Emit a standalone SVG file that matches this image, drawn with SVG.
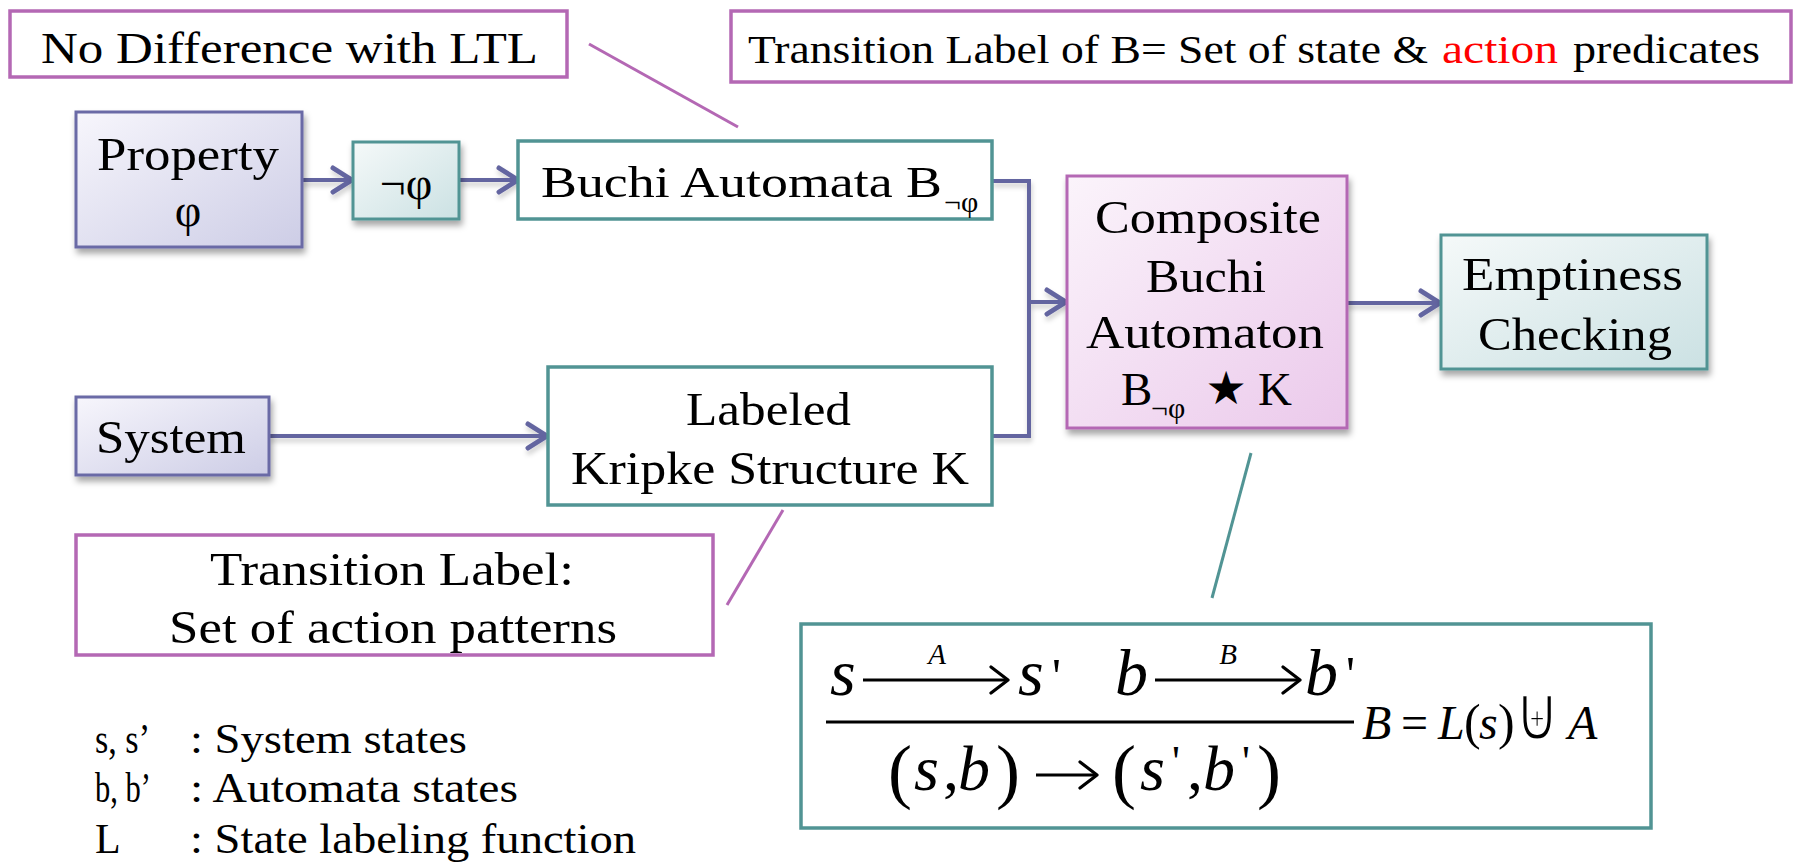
<svg xmlns="http://www.w3.org/2000/svg" width="1796" height="862" viewBox="0 0 1796 862">
  <defs>
    <style>
      .txt { font-family: "Liberation Serif", "DejaVu Serif", serif; fill: #000; }
      .math { font-family: "Liberation Serif", "DejaVu Serif", serif; font-style: italic; fill: #000; }
      .up { font-family: "Liberation Serif", "DejaVu Serif", serif; fill: #000; }
      .sym { font-family: "DejaVu Sans", sans-serif; fill: #000; }
      .callout { fill: #ffffff; stroke: #b468b4; stroke-width: 3.5; }
      .plain { fill: #ffffff; stroke: #519494; stroke-width: 3.5; }
      .lead-p { stroke: #b468b4; stroke-width: 3; fill: none; }
      .lead-t { stroke: #519494; stroke-width: 3; fill: none; }
      .conn { stroke: #6465a0; stroke-width: 4; fill: none; }
      .rule-line { stroke: #000; stroke-width: 3.2; fill: none; }
    </style>
    <linearGradient id="gLav" x1="0" y1="0" x2="1" y2="1">
      <stop offset="0" stop-color="#f7f6fc"/>
      <stop offset="1" stop-color="#cdcde6"/>
    </linearGradient>
    <linearGradient id="gTeal" x1="0" y1="0" x2="1" y2="1">
      <stop offset="0" stop-color="#f5f9f9"/>
      <stop offset="1" stop-color="#cbe1e3"/>
    </linearGradient>
    <linearGradient id="gPink" x1="0" y1="0" x2="1" y2="1">
      <stop offset="0" stop-color="#fbf4fb"/>
      <stop offset="1" stop-color="#ebc9eb"/>
    </linearGradient>
    <filter id="shadow" x="-10%" y="-10%" width="125%" height="130%">
      <feDropShadow dx="2" dy="5" stdDeviation="3" flood-color="#000" flood-opacity="0.35"/>
    </filter>
    <filter id="lineShadow" x="-5%" y="-50%" width="110%" height="300%">
      <feDropShadow dx="1" dy="4" stdDeviation="2.5" flood-color="#000" flood-opacity="0.2"/>
    </filter>
    <marker id="head" viewBox="0 0 26 30" refX="23" refY="15" markerWidth="26" markerHeight="30" markerUnits="userSpaceOnUse" orient="auto">
      <path d="M4,3 L23,15 L4,27" fill="none" stroke="#6465a0" stroke-width="5" stroke-linecap="round" stroke-linejoin="round"/>
    </marker>
    <marker id="mathHead" viewBox="0 0 22 30" refX="20" refY="15" markerWidth="22" markerHeight="30" markerUnits="userSpaceOnUse" orient="auto">
      <path d="M3,2 L20,15 L3,28" fill="none" stroke="#000" stroke-width="3.2" stroke-linecap="round" stroke-linejoin="round"/>
    </marker>
  </defs>

  <rect width="1796" height="862" fill="#ffffff"/>

  <!-- connectors -->
  <g id="connectors">
    <g filter="url(#lineShadow)">
      <line class="conn" x1="302" y1="180" x2="352" y2="180" marker-end="url(#head)"/>
      <line class="conn" x1="460" y1="180" x2="518" y2="180" marker-end="url(#head)"/>
      <line class="conn" x1="269" y1="436" x2="547" y2="436" marker-end="url(#head)"/>
      <polyline class="conn" points="992,181 1029,181 1029,436 992,436"/>
      <line class="conn" x1="1029" y1="302" x2="1066" y2="302" marker-end="url(#head)"/>
      <line class="conn" x1="1347" y1="303" x2="1440" y2="303" marker-end="url(#head)"/>
    </g>
    <!-- annotation leader lines -->
    <line class="lead-p" x1="589" y1="44" x2="738" y2="127"/>
    <line class="lead-p" x1="783" y1="510" x2="727" y2="605"/>
    <line class="lead-t" x1="1251" y1="453" x2="1212" y2="598"/>
  </g>

  <!-- callout: no difference -->
  <g id="note-ltl">
    <rect class="callout" x="10" y="11" width="557" height="66"/>
    <text class="txt" x="41" y="63" font-size="44" textLength="497" lengthAdjust="spacingAndGlyphs">No Difference with LTL</text>
  </g>

  <!-- callout: transition label of B -->
  <g id="note-b-label">
    <rect class="callout" x="731" y="11" width="1060" height="71"/>
    <text class="txt" x="748" y="63" font-size="40" textLength="680" lengthAdjust="spacingAndGlyphs">Transition Label of B= Set of state &amp;</text>
    <text class="txt" x="1442" y="63" font-size="40" style="fill:#ff0000" textLength="116" lengthAdjust="spacingAndGlyphs">action</text>
    <text class="txt" x="1573" y="63" font-size="40" textLength="187" lengthAdjust="spacingAndGlyphs">predicates</text>
  </g>

  <!-- property -->
  <g id="property">
    <rect x="76" y="112" width="226" height="135" fill="url(#gLav)" stroke="#6a6aa6" stroke-width="3" filter="url(#shadow)"/>
    <text class="txt" x="188" y="170" font-size="46" text-anchor="middle" textLength="182" lengthAdjust="spacingAndGlyphs">Property</text>
    <text class="txt" x="188" y="226" font-size="46" text-anchor="middle">φ</text>
  </g>

  <!-- negation -->
  <g id="negation">
    <rect x="353" y="142" width="106" height="77" fill="url(#gTeal)" stroke="#519494" stroke-width="3" filter="url(#shadow)"/>
    <text class="txt" x="406" y="199" font-size="46" text-anchor="middle">¬φ</text>
  </g>

  <!-- buchi automata -->
  <g id="buchi">
    <rect class="plain" x="518" y="141" width="474" height="78"/>
    <text class="txt" x="541" y="197" font-size="45" textLength="401" lengthAdjust="spacingAndGlyphs">Buchi Automata B</text>
    <text class="txt" x="944" y="212" font-size="30">¬φ</text>
  </g>

  <!-- system -->
  <g id="system">
    <rect x="76" y="397" width="193" height="78" fill="url(#gLav)" stroke="#6a6aa6" stroke-width="3" filter="url(#shadow)"/>
    <text class="txt" x="96" y="453" font-size="46" textLength="150" lengthAdjust="spacingAndGlyphs">System</text>
  </g>

  <!-- labeled kripke structure -->
  <g id="kripke">
    <rect class="plain" x="548" y="367" width="444" height="138"/>
    <text class="txt" x="686" y="425" font-size="46" textLength="165" lengthAdjust="spacingAndGlyphs">Labeled</text>
    <text class="txt" x="571" y="484" font-size="46" textLength="398" lengthAdjust="spacingAndGlyphs">Kripke Structure K</text>
  </g>

  <!-- callout: kripke transition label -->
  <g id="note-k-label">
    <rect class="callout" x="76" y="535" width="637" height="120"/>
    <text class="txt" x="210" y="585" font-size="46" textLength="364" lengthAdjust="spacingAndGlyphs">Transition Label:</text>
    <text class="txt" x="169" y="643" font-size="46" textLength="448" lengthAdjust="spacingAndGlyphs">Set of action patterns</text>
  </g>

  <!-- composite automaton -->
  <g id="composite">
    <rect x="1067" y="176" width="280" height="252" fill="url(#gPink)" stroke="#b468b4" stroke-width="3" filter="url(#shadow)"/>
    <text class="txt" x="1095" y="233" font-size="47" textLength="226" lengthAdjust="spacingAndGlyphs">Composite</text>
    <text class="txt" x="1146" y="292" font-size="47" textLength="120" lengthAdjust="spacingAndGlyphs">Buchi</text>
    <text class="txt" x="1086" y="348" font-size="47" textLength="238" lengthAdjust="spacingAndGlyphs">Automaton</text>
    <text class="txt" x="1121" y="405" font-size="47">B</text>
    <text class="txt" x="1151" y="418" font-size="30">¬φ</text>
    <text class="sym" x="1226" y="404" font-size="46" text-anchor="middle">★</text>
    <text class="txt" x="1258" y="405" font-size="47">K</text>
  </g>

  <!-- emptiness checking -->
  <g id="emptiness">
    <rect x="1441" y="235" width="266" height="134" fill="url(#gTeal)" stroke="#519494" stroke-width="3" filter="url(#shadow)"/>
    <text class="txt" x="1462" y="290" font-size="47" textLength="221" lengthAdjust="spacingAndGlyphs">Emptiness</text>
    <text class="txt" x="1478" y="350" font-size="47" textLength="194" lengthAdjust="spacingAndGlyphs">Checking</text>
  </g>

  <!-- composition rule -->
  <g id="rule">
    <rect class="plain" x="801" y="624" width="850" height="204"/>
    <!-- premise: s -A-> s' -->
    <text class="math" x="830" y="695" font-size="66">s</text>
    <line class="rule-line" x1="863" y1="680" x2="1008" y2="680" marker-end="url(#mathHead)"/>
    <text class="math" x="937" y="664" font-size="29" text-anchor="middle">A</text>
    <text class="math" x="1018" y="695" font-size="66">s</text>
    <text class="up" x="1052" y="693" font-size="50">'</text>
    <!-- premise: b -B-> b' -->
    <text class="math" x="1115" y="695" font-size="66">b</text>
    <line class="rule-line" x1="1155" y1="680" x2="1300" y2="680" marker-end="url(#mathHead)"/>
    <text class="math" x="1228" y="664" font-size="29" text-anchor="middle">B</text>
    <text class="math" x="1305" y="695" font-size="66">b</text>
    <text class="up" x="1346" y="691" font-size="50">'</text>
    <!-- fraction bar -->
    <line class="rule-line" x1="826" y1="722" x2="1354" y2="722"/>
    <!-- conclusion -->
    <text class="up" x="888" y="795" font-size="72">(</text>
    <text class="math" x="914" y="790" font-size="64">s</text>
    <text class="up" x="943" y="790" font-size="64">,</text>
    <text class="math" x="958" y="790" font-size="64">b</text>
    <text class="up" x="996" y="795" font-size="72">)</text>
    <line class="rule-line" x1="1036" y1="775" x2="1097" y2="775" marker-end="url(#mathHead)"/>
    <text class="up" x="1112" y="795" font-size="72">(</text>
    <text class="math" x="1140" y="790" font-size="64">s</text>
    <text class="up" x="1172" y="776" font-size="44">'</text>
    <text class="up" x="1187" y="790" font-size="64">,</text>
    <text class="math" x="1203" y="790" font-size="64">b</text>
    <text class="up" x="1242" y="776" font-size="44">'</text>
    <text class="up" x="1257" y="795" font-size="72">)</text>
    <!-- side condition -->
    <text class="math" x="1362" y="739" font-size="48">B</text>
    <text class="up" x="1401" y="739" font-size="48">=</text>
    <text class="math" x="1438" y="739" font-size="48">L</text>
    <text class="up" x="1464" y="739" font-size="50">(</text>
    <text class="math" x="1479" y="739" font-size="48">s</text>
    <text class="up" x="1498" y="739" font-size="50">)</text>
    <text class="sym" transform="translate(1537,740) scale(1.25,1.55)" x="0" y="0" font-size="50" text-anchor="middle" stroke="#ffffff" stroke-width="1.6">⊎</text>
    <text class="math" x="1568" y="739" font-size="48">A</text>
  </g>

  <!-- legend -->
  <g id="legend">
    <text class="txt" x="95" y="753" font-size="42" textLength="55" lengthAdjust="spacingAndGlyphs">s, s’</text>
    <text class="txt" x="190" y="753" font-size="42" textLength="277" lengthAdjust="spacingAndGlyphs">: System states</text>
    <text class="txt" x="95" y="802" font-size="42" textLength="56" lengthAdjust="spacingAndGlyphs">b, b’</text>
    <text class="txt" x="190" y="802" font-size="42" textLength="328" lengthAdjust="spacingAndGlyphs">: Automata states</text>
    <text class="txt" x="95" y="853" font-size="42">L</text>
    <text class="txt" x="190" y="853" font-size="42" textLength="446" lengthAdjust="spacingAndGlyphs">: State labeling function</text>
  </g>
</svg>
